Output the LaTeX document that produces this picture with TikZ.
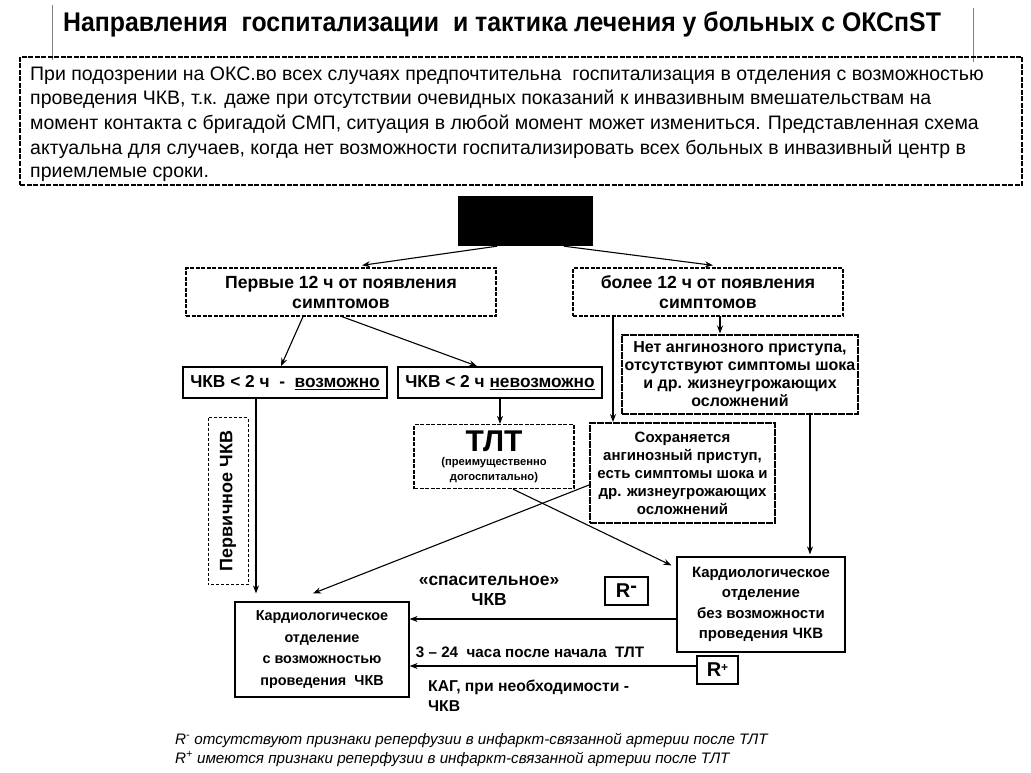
\documentclass[tikz,border=0pt]{standalone}
\usepackage{fontspec}
\setmainfont{Liberation Sans}
\newfontfamily\titlefont{Liberation Sans}[FakeStretch=0.92]
\usetikzlibrary{arrows.meta}
\newcommand{\fs}[2]{\fontsize{#1}{#2}\selectfont}
\begin{document}
\begin{tikzpicture}[x=1pt,y=-1pt,
  dbox/.style={draw, line width=1.3pt, dash pattern=on 4pt off 1.5pt, inner sep=0pt, align=center, font=\bfseries\fs{15}{20}},
  hbox/.style={draw, line width=2pt, dash pattern=on 7pt off 1pt, inner sep=0pt, align=center, font=\bfseries\fs{15}{18}},
  sbox/.style={draw, line width=1.8pt, inner sep=0pt, align=center, font=\bfseries\fs{17.3}{20}},
  tbox/.style={draw, line width=1.2pt, inner sep=0pt, align=center, font=\bfseries\fs{14.4}{21.5}},
  rbox/.style={draw, line width=1.5pt, inner sep=0pt, align=center, font=\bfseries\fs{20}{22}},
  lbl/.style={inner sep=0pt, align=center, font=\bfseries\fs{15.5}{20}},
  bodyline/.style={anchor=base west, inner sep=0pt, font=\fs{19.5}{24}},
  foot/.style={anchor=base west, inner sep=0pt, font=\itshape\fs{15.2}{18}},
  arr/.style={-{Stealth[length=8pt,width=6pt]}, line width=1.1pt}
]
\useasboundingbox (0,0) rectangle (1031,773);
\fill[white] (0,0) rectangle (1031,773);

% title and side marks
\node[inner sep=0pt, font=\titlefont\bfseries\fs{27}{30}] (title) at (502,24) {Направления\ \ госпитализации\ \ и тактика лечения у больных с ОКСпST};
\coordinate (t1a) at (52,5); \coordinate (t1b) at (52,60);
\coordinate (t2a) at (973,8); \coordinate (t2b) at (973,62);
\draw[line width=0.6pt, gray] (t1a) -- (t1b);
\draw[line width=0.6pt, gray] (t2a) -- (t2b);

% info box
\node[draw, line width=1.3pt, dash pattern=on 5pt off 1.5pt, minimum width=1002pt, minimum height=128pt, inner sep=0pt] (info) at (521,121) {};
\node[bodyline] (b1) at (30,81) {При подозрении на ОКС.во всех случаях предпочтительна\ \ госпитализация в отделения с возможностью};
\node[bodyline] (b2) at (30,105) {проведения ЧКВ, т.к. даже при отсутствии очевидных показаний к инвазивным вмешательствам на};
\node[bodyline] (b3) at (30,130) {момент контакта с бригадой СМП, ситуация в любой момент может измениться. Представленная схема};
\node[bodyline] (b4) at (30,155) {актуальна для случаев, когда нет возможности госпитализировать всех больных в инвазивный центр в};
\node[bodyline] (b5) at (30,178) {приемлемые сроки.};

% black box
\node[fill=black, minimum width=135pt, minimum height=50pt, inner sep=0pt] (black) at (525.5,221) {};

% time boxes
\node[dbox, font=\bfseries\fs{17.6}{20}, minimum width=310pt, minimum height=48pt] (p12) at (341,292) {Первые 12 ч от появления\\симптомов};
\node[dbox, font=\bfseries\fs{17.6}{20}, minimum width=270pt, minimum height=48pt] (m12) at (708,292) {более 12 ч от появления\\симптомов};
\draw[arr] ([xshift=-28.5pt]black.south) -- ([xshift=21pt,yshift=2pt]p12.north);
\draw[arr] ([xshift=38.5pt]black.south) -- ([xshift=5pt,yshift=2pt]m12.north);

% PCI boxes
\node[sbox, minimum width=204pt, minimum height=31pt] (vozm) at (285,382.5) {ЧКВ < 2 ч\ \ -\ \ \underline{возможно}};
\node[sbox, minimum width=204pt, minimum height=31pt] (nevozm) at (500,382.5) {ЧКВ < 2 ч \underline{невозможно}};
\draw[arr] ([xshift=-38pt]p12.south) -- ([xshift=-4pt]vozm.north);
\draw[arr] ([xshift=1pt]p12.south) -- ([xshift=-23pt]nevozm.north);

% TLT
\node[dbox, minimum width=160pt, minimum height=64pt, font=\bfseries\fs{11.2}{15}] (tlt) at (494,456.5) {{\fs{30}{30}ТЛТ}\\[-1pt](преимущественно\\догоспитально)};
\draw[arr] (nevozm.south) -- (tlt.north -| nevozm.south);

% right branch boxes
\node[hbox, font=\bfseries\fs{16}{18}, minimum width=236pt, minimum height=79pt] (net) at (740,374) {Нет ангинозного приступа,\\отсутствуют симптомы шока\\и др. жизнеугрожающих\\осложнений};
\node[hbox, minimum width=185pt, minimum height=100pt] (soh) at (682.5,473) {Сохраняется\\ангинозный приступ,\\есть симптомы шока и\\др. жизнеугрожающих\\осложнений};
\coordinate (m12n) at (720,316);
\draw[arr] (m12n) -- (m12n |- net.north);
\coordinate (m12s) at (613,316);
\draw[arr] (m12s) -- (m12s |- soh.north);

% cardiology boxes
\node[tbox, minimum width=168pt, minimum height=95pt, font=\bfseries\fs{15}{20.5}] (kbez) at (761,604.5) {Кардиологическое\\отделение\\без возможности\\проведения ЧКВ};
\node[tbox, minimum width=174pt, minimum height=95pt] (kwith) at (322,649.5) {Кардиологическое\\отделение\\с возможностью\\проведения\ \ ЧКВ};
\coordinate (netb) at ([xshift=70pt]net.south);
\draw[arr] (netb) -- ([yshift=2pt]netb |- kbez.north);

% crossing lines
\draw[arr] ([xshift=19pt]tlt.south) -- ([xshift=-5pt,yshift=-9pt]kbez.north west);
\draw[arr] ([yshift=-12pt]soh.west) -- ([xshift=-9pt,yshift=8pt]kwith.north);

% primary PCI
\coordinate (vozb) at (256,398);
\draw[arr] (vozb) -- ([yshift=8pt]vozb |- kwith.north);
\node[draw, line width=1pt, dash pattern=on 3pt off 2pt, minimum width=167pt, minimum height=40pt, inner sep=0pt, rotate=90, font=\bfseries\fs{18}{20}] (perv) at (228,501) {Первичное ЧКВ};

% rescue PCI
\draw[arr] (kbez.west |- 0,619) -- (kwith.east |- 0,619);
\node[lbl, font=\bfseries\fs{17.4}{20}] (spas) at (489,591) {«спасительное»\\ЧКВ};
\node[rbox, minimum width=43pt, minimum height=28pt] (rminus) at (626.5,591) {R\raisebox{5pt}{-}};

% routine
\node[rbox, minimum width=41pt, minimum height=28pt] (rplus) at (717.5,670) {R\raisebox{5pt}{\fs{12}{12}+}};
\draw[arr] (rplus.west |- 0,666) -- (kwith.east |- 0,666);
\node[lbl, font=\bfseries\fs{15.2}{20}] (hrs) at (530,652) {3 – 24\ \ часа после начала\ \ ТЛТ};
\node[lbl, font=\bfseries\fs{15.7}{20}, align=left, anchor=north west] (kag) at (428,680) {КАГ, при необходимости -\\ЧКВ};

% footnotes
\node[foot] (f1) at (175,744) {R\textsuperscript{-} отсутствуют признаки реперфузии в инфаркт-связанной артерии после ТЛТ};
\node[foot] (f2) at (175,763) {R\textsuperscript{+} имеются признаки реперфузии в инфаркт-связанной артерии после ТЛТ};
\end{tikzpicture}
\end{document}
